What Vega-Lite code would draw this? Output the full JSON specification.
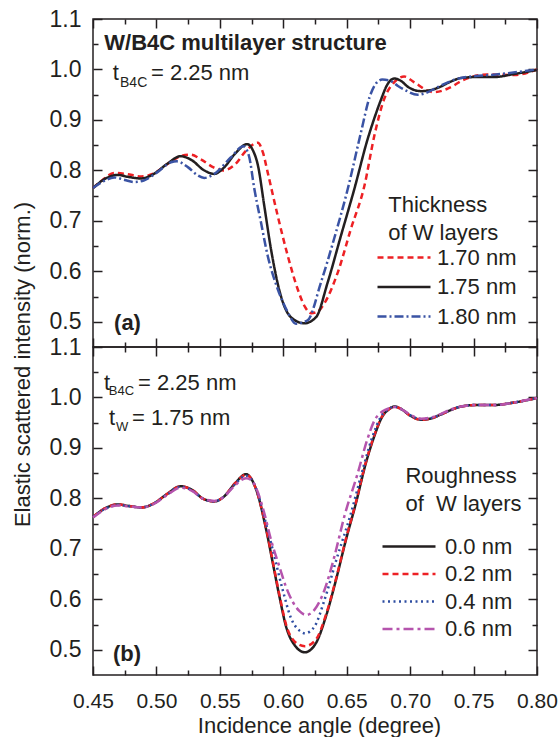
{
  "$schema": "https://vega.github.io/schema/vega-lite/v6.json",
  "padding": {"left": 10, "top": 7, "right": 2, "bottom": 4},
  "spacing": 0,
  "bounds": "flush",
  "config": {
    "font": "Liberation Sans",
    "view": {"stroke": "#231f20", "strokeWidth": 1.5},
    "axis": {
      "domain": false, "grid": false, "labelFlush": false, "labelOverlap": false,
      "labelFont": "Liberation Sans", "labelFontSize": 21, "labelColor": "#231f20",
      "tickColor": "#231f20", "tickWidth": 1.5,
      "titleFont": "Liberation Sans", "titleFontSize": 22, "titleFontWeight": "normal", "titleColor": "#231f20"
    },
    "legend": {
      "labelFont": "Liberation Sans", "titleFont": "Liberation Sans", "labelColor": "#231f20", "titleColor": "#231f20"
    },
    "text": {"font": "Liberation Sans", "color": "#231f20"}
  },
  "resolve": {
    "scale": {"color": "independent", "strokeDash": "independent"},
    "legend": {"color": "independent", "strokeDash": "independent"}
  },
  "datasets": {
    "top": [
      {"t":"1.70 nm","x":0.45,"y":0.765},{"t":"1.70 nm","x":0.458,"y":0.782},{"t":"1.70 nm","x":0.4668,"y":0.795},{"t":"1.70 nm","x":0.476,"y":0.793},{"t":"1.70 nm","x":0.488,"y":0.788},{"t":"1.70 nm","x":0.498,"y":0.794},{"t":"1.70 nm","x":0.51,"y":0.815},{"t":"1.70 nm","x":0.52,"y":0.829},{"t":"1.70 nm","x":0.527,"y":0.831},{"t":"1.70 nm","x":0.535,"y":0.822},{"t":"1.70 nm","x":0.545,"y":0.806},{"t":"1.70 nm","x":0.553,"y":0.8},{"t":"1.70 nm","x":0.562,"y":0.812},{"t":"1.70 nm","x":0.571,"y":0.84},{"t":"1.70 nm","x":0.58,"y":0.855},{"t":"1.70 nm","x":0.584,"y":0.835},{"t":"1.70 nm","x":0.5877,"y":0.796},{"t":"1.70 nm","x":0.5956,"y":0.71},{"t":"1.70 nm","x":0.6035,"y":0.631},{"t":"1.70 nm","x":0.6113,"y":0.565},{"t":"1.70 nm","x":0.617,"y":0.53},{"t":"1.70 nm","x":0.622,"y":0.517},{"t":"1.70 nm","x":0.627,"y":0.52},{"t":"1.70 nm","x":0.632,"y":0.535},{"t":"1.70 nm","x":0.643,"y":0.598},{"t":"1.70 nm","x":0.6533,"y":0.684},{"t":"1.70 nm","x":0.664,"y":0.77},{"t":"1.70 nm","x":0.6718,"y":0.869},{"t":"1.70 nm","x":0.6796,"y":0.942},{"t":"1.70 nm","x":0.6875,"y":0.975},{"t":"1.70 nm","x":0.6954,"y":0.986},{"t":"1.70 nm","x":0.703,"y":0.975},{"t":"1.70 nm","x":0.7138,"y":0.958},{"t":"1.70 nm","x":0.719,"y":0.955},{"t":"1.70 nm","x":0.7296,"y":0.962},{"t":"1.70 nm","x":0.7427,"y":0.98},{"t":"1.70 nm","x":0.761,"y":0.99},{"t":"1.70 nm","x":0.782,"y":0.989},{"t":"1.70 nm","x":0.8,"y":1.0},
      {"t":"1.75 nm","x":0.45,"y":0.765},{"t":"1.75 nm","x":0.46,"y":0.784},{"t":"1.75 nm","x":0.4695,"y":0.791},{"t":"1.75 nm","x":0.478,"y":0.787},{"t":"1.75 nm","x":0.488,"y":0.784},{"t":"1.75 nm","x":0.498,"y":0.793},{"t":"1.75 nm","x":0.508,"y":0.812},{"t":"1.75 nm","x":0.519,"y":0.828},{"t":"1.75 nm","x":0.528,"y":0.82},{"t":"1.75 nm","x":0.537,"y":0.801},{"t":"1.75 nm","x":0.5456,"y":0.793},{"t":"1.75 nm","x":0.553,"y":0.805},{"t":"1.75 nm","x":0.562,"y":0.833},{"t":"1.75 nm","x":0.5715,"y":0.852},{"t":"1.75 nm","x":0.576,"y":0.84},{"t":"1.75 nm","x":0.58,"y":0.81},{"t":"1.75 nm","x":0.585,"y":0.73},{"t":"1.75 nm","x":0.5903,"y":0.644},{"t":"1.75 nm","x":0.598,"y":0.552},{"t":"1.75 nm","x":0.606,"y":0.509},{"t":"1.75 nm","x":0.6166,"y":0.497},{"t":"1.75 nm","x":0.6258,"y":0.509},{"t":"1.75 nm","x":0.635,"y":0.578},{"t":"1.75 nm","x":0.6455,"y":0.671},{"t":"1.75 nm","x":0.656,"y":0.763},{"t":"1.75 nm","x":0.6665,"y":0.862},{"t":"1.75 nm","x":0.672,"y":0.905},{"t":"1.75 nm","x":0.677,"y":0.94},{"t":"1.75 nm","x":0.682,"y":0.97},{"t":"1.75 nm","x":0.6875,"y":0.982},{"t":"1.75 nm","x":0.693,"y":0.977},{"t":"1.75 nm","x":0.698,"y":0.966},{"t":"1.75 nm","x":0.7086,"y":0.957},{"t":"1.75 nm","x":0.716,"y":0.959},{"t":"1.75 nm","x":0.724,"y":0.966},{"t":"1.75 nm","x":0.732,"y":0.976},{"t":"1.75 nm","x":0.74,"y":0.983},{"t":"1.75 nm","x":0.752,"y":0.985},{"t":"1.75 nm","x":0.766,"y":0.985},{"t":"1.75 nm","x":0.782,"y":0.991},{"t":"1.75 nm","x":0.8,"y":0.999},
      {"t":"1.80 nm","x":0.45,"y":0.765},{"t":"1.80 nm","x":0.458,"y":0.778},{"t":"1.80 nm","x":0.4668,"y":0.786},{"t":"1.80 nm","x":0.475,"y":0.781},{"t":"1.80 nm","x":0.4826,"y":0.777},{"t":"1.80 nm","x":0.49,"y":0.78},{"t":"1.80 nm","x":0.5,"y":0.795},{"t":"1.80 nm","x":0.5115,"y":0.816},{"t":"1.80 nm","x":0.516,"y":0.818},{"t":"1.80 nm","x":0.525,"y":0.806},{"t":"1.80 nm","x":0.532,"y":0.791},{"t":"1.80 nm","x":0.5377,"y":0.785},{"t":"1.80 nm","x":0.545,"y":0.792},{"t":"1.80 nm","x":0.5588,"y":0.826},{"t":"1.80 nm","x":0.5685,"y":0.848},{"t":"1.80 nm","x":0.573,"y":0.828},{"t":"1.80 nm","x":0.5772,"y":0.763},{"t":"1.80 nm","x":0.5824,"y":0.697},{"t":"1.80 nm","x":0.5877,"y":0.631},{"t":"1.80 nm","x":0.5956,"y":0.565},{"t":"1.80 nm","x":0.6035,"y":0.519},{"t":"1.80 nm","x":0.61,"y":0.496},{"t":"1.80 nm","x":0.6192,"y":0.503},{"t":"1.80 nm","x":0.6297,"y":0.578},{"t":"1.80 nm","x":0.64,"y":0.664},{"t":"1.80 nm","x":0.6508,"y":0.763},{"t":"1.80 nm","x":0.6613,"y":0.876},{"t":"1.80 nm","x":0.668,"y":0.945},{"t":"1.80 nm","x":0.6744,"y":0.976},{"t":"1.80 nm","x":0.678,"y":0.98},{"t":"1.80 nm","x":0.684,"y":0.978},{"t":"1.80 nm","x":0.69,"y":0.968},{"t":"1.80 nm","x":0.6954,"y":0.96},{"t":"1.80 nm","x":0.706,"y":0.95},{"t":"1.80 nm","x":0.714,"y":0.955},{"t":"1.80 nm","x":0.7217,"y":0.965},{"t":"1.80 nm","x":0.74,"y":0.983},{"t":"1.80 nm","x":0.7716,"y":0.991},{"t":"1.80 nm","x":0.8,"y":1.0}
    ],
    "bot": [
      {"r":"0.0 nm","x":0.45,"y":0.763},{"r":"0.0 nm","x":0.46,"y":0.781},{"r":"0.0 nm","x":0.4695,"y":0.788},{"r":"0.0 nm","x":0.478,"y":0.785},{"r":"0.0 nm","x":0.488,"y":0.782},{"r":"0.0 nm","x":0.498,"y":0.79},{"r":"0.0 nm","x":0.508,"y":0.808},{"r":"0.0 nm","x":0.519,"y":0.824},{"r":"0.0 nm","x":0.528,"y":0.817},{"r":"0.0 nm","x":0.537,"y":0.799},{"r":"0.0 nm","x":0.5456,"y":0.794},{"r":"0.0 nm","x":0.553,"y":0.803},{"r":"0.0 nm","x":0.562,"y":0.83},{"r":"0.0 nm","x":0.5706,"y":0.848},{"r":"0.0 nm","x":0.5745,"y":0.84},{"r":"0.0 nm","x":0.5787,"y":0.817},{"r":"0.0 nm","x":0.5866,"y":0.737},{"r":"0.0 nm","x":0.5918,"y":0.671},{"r":"0.0 nm","x":0.597,"y":0.605},{"r":"0.0 nm","x":0.6023,"y":0.545},{"r":"0.0 nm","x":0.609,"y":0.509},{"r":"0.0 nm","x":0.617,"y":0.495},{"r":"0.0 nm","x":0.6257,"y":0.513},{"r":"0.0 nm","x":0.6336,"y":0.566},{"r":"0.0 nm","x":0.6415,"y":0.638},{"r":"0.0 nm","x":0.6494,"y":0.718},{"r":"0.0 nm","x":0.6572,"y":0.79},{"r":"0.0 nm","x":0.6651,"y":0.87},{"r":"0.0 nm","x":0.672,"y":0.925},{"r":"0.0 nm","x":0.678,"y":0.962},{"r":"0.0 nm","x":0.683,"y":0.976},{"r":"0.0 nm","x":0.6875,"y":0.982},{"r":"0.0 nm","x":0.693,"y":0.977},{"r":"0.0 nm","x":0.7,"y":0.964},{"r":"0.0 nm","x":0.7086,"y":0.956},{"r":"0.0 nm","x":0.716,"y":0.958},{"r":"0.0 nm","x":0.724,"y":0.966},{"r":"0.0 nm","x":0.732,"y":0.975},{"r":"0.0 nm","x":0.74,"y":0.982},{"r":"0.0 nm","x":0.752,"y":0.985},{"r":"0.0 nm","x":0.766,"y":0.985},{"r":"0.0 nm","x":0.782,"y":0.99},{"r":"0.0 nm","x":0.8,"y":0.999},
      {"r":"0.2 nm","x":0.45,"y":0.763},{"r":"0.2 nm","x":0.46,"y":0.781},{"r":"0.2 nm","x":0.4695,"y":0.788},{"r":"0.2 nm","x":0.478,"y":0.785},{"r":"0.2 nm","x":0.488,"y":0.782},{"r":"0.2 nm","x":0.498,"y":0.79},{"r":"0.2 nm","x":0.508,"y":0.808},{"r":"0.2 nm","x":0.519,"y":0.824},{"r":"0.2 nm","x":0.528,"y":0.817},{"r":"0.2 nm","x":0.537,"y":0.799},{"r":"0.2 nm","x":0.5456,"y":0.794},{"r":"0.2 nm","x":0.553,"y":0.803},{"r":"0.2 nm","x":0.562,"y":0.83},{"r":"0.2 nm","x":0.5706,"y":0.847},{"r":"0.2 nm","x":0.5745,"y":0.84},{"r":"0.2 nm","x":0.5787,"y":0.817},{"r":"0.2 nm","x":0.5866,"y":0.739},{"r":"0.2 nm","x":0.5918,"y":0.674},{"r":"0.2 nm","x":0.597,"y":0.608},{"r":"0.2 nm","x":0.6023,"y":0.549},{"r":"0.2 nm","x":0.609,"y":0.516},{"r":"0.2 nm","x":0.617,"y":0.507},{"r":"0.2 nm","x":0.6257,"y":0.52},{"r":"0.2 nm","x":0.6336,"y":0.569},{"r":"0.2 nm","x":0.6415,"y":0.64},{"r":"0.2 nm","x":0.6494,"y":0.72},{"r":"0.2 nm","x":0.6572,"y":0.792},{"r":"0.2 nm","x":0.6651,"y":0.872},{"r":"0.2 nm","x":0.672,"y":0.927},{"r":"0.2 nm","x":0.678,"y":0.963},{"r":"0.2 nm","x":0.683,"y":0.976},{"r":"0.2 nm","x":0.6875,"y":0.982},{"r":"0.2 nm","x":0.693,"y":0.977},{"r":"0.2 nm","x":0.7,"y":0.964},{"r":"0.2 nm","x":0.7086,"y":0.956},{"r":"0.2 nm","x":0.716,"y":0.958},{"r":"0.2 nm","x":0.724,"y":0.966},{"r":"0.2 nm","x":0.732,"y":0.975},{"r":"0.2 nm","x":0.74,"y":0.982},{"r":"0.2 nm","x":0.752,"y":0.985},{"r":"0.2 nm","x":0.766,"y":0.985},{"r":"0.2 nm","x":0.782,"y":0.99},{"r":"0.2 nm","x":0.8,"y":0.999},
      {"r":"0.4 nm","x":0.45,"y":0.763},{"r":"0.4 nm","x":0.46,"y":0.78},{"r":"0.4 nm","x":0.4695,"y":0.787},{"r":"0.4 nm","x":0.478,"y":0.785},{"r":"0.4 nm","x":0.488,"y":0.782},{"r":"0.4 nm","x":0.498,"y":0.79},{"r":"0.4 nm","x":0.508,"y":0.807},{"r":"0.4 nm","x":0.519,"y":0.823},{"r":"0.4 nm","x":0.528,"y":0.816},{"r":"0.4 nm","x":0.537,"y":0.799},{"r":"0.4 nm","x":0.5456,"y":0.794},{"r":"0.4 nm","x":0.553,"y":0.803},{"r":"0.4 nm","x":0.562,"y":0.828},{"r":"0.4 nm","x":0.5706,"y":0.845},{"r":"0.4 nm","x":0.5745,"y":0.839},{"r":"0.4 nm","x":0.5787,"y":0.818},{"r":"0.4 nm","x":0.5866,"y":0.748},{"r":"0.4 nm","x":0.5917,"y":0.698},{"r":"0.4 nm","x":0.5996,"y":0.618},{"r":"0.4 nm","x":0.6062,"y":0.562},{"r":"0.4 nm","x":0.6128,"y":0.538},{"r":"0.4 nm","x":0.617,"y":0.5325},{"r":"0.4 nm","x":0.6246,"y":0.546},{"r":"0.4 nm","x":0.6325,"y":0.599},{"r":"0.4 nm","x":0.6418,"y":0.678},{"r":"0.4 nm","x":0.6534,"y":0.771},{"r":"0.4 nm","x":0.6626,"y":0.857},{"r":"0.4 nm","x":0.67,"y":0.92},{"r":"0.4 nm","x":0.677,"y":0.962},{"r":"0.4 nm","x":0.683,"y":0.977},{"r":"0.4 nm","x":0.6875,"y":0.982},{"r":"0.4 nm","x":0.693,"y":0.977},{"r":"0.4 nm","x":0.7,"y":0.965},{"r":"0.4 nm","x":0.7086,"y":0.957},{"r":"0.4 nm","x":0.716,"y":0.959},{"r":"0.4 nm","x":0.724,"y":0.966},{"r":"0.4 nm","x":0.732,"y":0.975},{"r":"0.4 nm","x":0.74,"y":0.982},{"r":"0.4 nm","x":0.752,"y":0.985},{"r":"0.4 nm","x":0.766,"y":0.985},{"r":"0.4 nm","x":0.782,"y":0.99},{"r":"0.4 nm","x":0.8,"y":0.999},
      {"r":"0.6 nm","x":0.45,"y":0.762},{"r":"0.6 nm","x":0.46,"y":0.779},{"r":"0.6 nm","x":0.4695,"y":0.786},{"r":"0.6 nm","x":0.478,"y":0.784},{"r":"0.6 nm","x":0.488,"y":0.782},{"r":"0.6 nm","x":0.498,"y":0.789},{"r":"0.6 nm","x":0.508,"y":0.806},{"r":"0.6 nm","x":0.519,"y":0.821},{"r":"0.6 nm","x":0.528,"y":0.815},{"r":"0.6 nm","x":0.537,"y":0.799},{"r":"0.6 nm","x":0.5456,"y":0.795},{"r":"0.6 nm","x":0.553,"y":0.803},{"r":"0.6 nm","x":0.562,"y":0.826},{"r":"0.6 nm","x":0.5706,"y":0.84},{"r":"0.6 nm","x":0.575,"y":0.836},{"r":"0.6 nm","x":0.579,"y":0.818},{"r":"0.6 nm","x":0.585,"y":0.771},{"r":"0.6 nm","x":0.5903,"y":0.718},{"r":"0.6 nm","x":0.5969,"y":0.665},{"r":"0.6 nm","x":0.6021,"y":0.625},{"r":"0.6 nm","x":0.6074,"y":0.595},{"r":"0.6 nm","x":0.6126,"y":0.577},{"r":"0.6 nm","x":0.6179,"y":0.569},{"r":"0.6 nm","x":0.6245,"y":0.579},{"r":"0.6 nm","x":0.6324,"y":0.618},{"r":"0.6 nm","x":0.6403,"y":0.685},{"r":"0.6 nm","x":0.6481,"y":0.764},{"r":"0.6 nm","x":0.6587,"y":0.85},{"r":"0.6 nm","x":0.666,"y":0.915},{"r":"0.6 nm","x":0.672,"y":0.955},{"r":"0.6 nm","x":0.678,"y":0.972},{"r":"0.6 nm","x":0.684,"y":0.979},{"r":"0.6 nm","x":0.6875,"y":0.981},{"r":"0.6 nm","x":0.693,"y":0.977},{"r":"0.6 nm","x":0.7,"y":0.966},{"r":"0.6 nm","x":0.7086,"y":0.958},{"r":"0.6 nm","x":0.716,"y":0.96},{"r":"0.6 nm","x":0.724,"y":0.967},{"r":"0.6 nm","x":0.732,"y":0.976},{"r":"0.6 nm","x":0.74,"y":0.982},{"r":"0.6 nm","x":0.752,"y":0.985},{"r":"0.6 nm","x":0.766,"y":0.985},{"r":"0.6 nm","x":0.782,"y":0.99},{"r":"0.6 nm","x":0.8,"y":0.999}
    ],
    "topBold": [{"x":0.4589,"y":1.0379,"label":"W/B4C multilayer structure"},{"x":0.4666,"y":0.483,"label":"(a)"}],
    "topText": [{"x":0.4655,"y":0.98,"label":"t"},{"x":0.4957,"y":0.98,"label":"= 2.25 nm"}],
    "topSub": [{"x":0.4713,"y":0.965,"label":"B4C"}],
    "botBold": [{"x":0.4658,"y":0.477,"label":"(b)"}],
    "botText": [{"x":0.4587,"y":1.0153,"label":"t"},{"x":0.4855,"y":1.0153,"label":"= 2.25 nm"},{"x":0.4626,"y":0.946,"label":"t"},{"x":0.4807,"y":0.946,"label":"= 1.75 nm"}],
    "botSub": [{"x":0.4624,"y":1.0048,"label":"B4C"},{"x":0.4681,"y":0.933,"label":"W"}]
  },
  "vconcat": [
    {
      "width": 444, "height": 328,
      "resolve": {"axis": {"x": "independent", "y": "independent"}},
      "layer": [
        {
          "data": {"name": "top"},
          "mark": {"type": "line", "interpolate": "monotone", "strokeWidth": 2.5},
          "encoding": {
            "x": {"field": "x", "type": "quantitative", "scale": {"domain": [0.45, 0.8], "nice": false, "zero": false},
              "axis": {"orient": "bottom", "values": [0.45,0.475,0.5,0.525,0.55,0.575,0.6,0.625,0.65,0.675,0.7,0.725,0.75,0.775,0.8], "labels": false, "title": null,
                "tickSize": {"condition": {"test": "abs(datum.value*20 - round(datum.value*20)) < 0.01", "value": -9}, "value": -5}}},
            "y": {"field": "y", "type": "quantitative", "scale": {"domain": [0.45, 1.1], "nice": false, "zero": false},
              "axis": {"orient": "left", "values": [0.5,0.55,0.6,0.65,0.7,0.75,0.8,0.85,0.9,0.95,1.0,1.05,1.1], "title": null, "labelFontSize": 23, "labelPadding": 21,
                "labelExpr": "abs(datum.value*10 - round(datum.value*10)) < 0.01 ? format(datum.value, '.1f') : ''",
                "tickSize": {"condition": {"test": "abs(datum.value*10 - round(datum.value*10)) < 0.01", "value": -9}, "value": -5}}},
            "color": {"field": "t", "type": "nominal", "scale": {"domain": ["1.70 nm", "1.75 nm", "1.80 nm"], "range": ["#ed2024", "#231f20", "#3a53a4"]},
              "legend": {"orient": "none", "legendX": 283, "legendY": 176, "padding": 0, "title": ["\u200b\u00a0\u00a0Thickness", "\u200b\u00a0\u00a0of W layers"], "titleFontSize": 22, "titleFontWeight": "normal", "titleLineHeight": 28, "titlePadding": 2, "labelFontSize": 22, "symbolType": "stroke", "symbolSize": 2809, "symbolStrokeWidth": 2.5, "labelOffset": 5, "rowPadding": 6.5, "clipHeight": 21}},
            "strokeDash": {"field": "t", "type": "nominal", "scale": {"domain": ["1.70 nm", "1.75 nm", "1.80 nm"], "range": [[6, 4], [1, 0], [9, 3, 2, 3]]},
              "legend": {"orient": "none", "legendX": 283, "legendY": 176, "padding": 0, "title": ["\u200b\u00a0\u00a0Thickness", "\u200b\u00a0\u00a0of W layers"], "titleFontSize": 22, "titleFontWeight": "normal", "titleLineHeight": 28, "titlePadding": 2, "labelFontSize": 22, "symbolType": "stroke", "symbolSize": 2809, "symbolStrokeWidth": 2.5, "labelOffset": 5, "rowPadding": 6.5, "clipHeight": 21}}
          }
        },
        {
          "data": {"name": "topBold"},
          "mark": {"type": "text", "align": "left", "baseline": "alphabetic", "fontSize": 22, "fontWeight": "bold"},
          "encoding": {
            "x": {"field": "x", "type": "quantitative", "scale": {"domain": [0.45, 0.8], "nice": false, "zero": false},
              "axis": {"orient": "top", "values": [0.45,0.475,0.5,0.525,0.55,0.575,0.6,0.625,0.65,0.675,0.7,0.725,0.75,0.775,0.8], "labels": false, "title": null,
                "tickSize": {"condition": {"test": "abs(datum.value*20 - round(datum.value*20)) < 0.01", "value": -9}, "value": -5}}},
            "y": {"field": "y", "type": "quantitative", "scale": {"domain": [0.45, 1.1], "nice": false, "zero": false},
              "axis": {"orient": "right", "values": [0.5,0.55,0.6,0.65,0.7,0.75,0.8,0.85,0.9,0.95,1.0,1.05,1.1], "labels": false, "title": null,
                "tickSize": {"condition": {"test": "abs(datum.value*10 - round(datum.value*10)) < 0.01", "value": -9}, "value": -5}}},
            "text": {"field": "label"}
          }
        },
        {
          "data": {"name": "topText"},
          "mark": {"type": "text", "align": "left", "baseline": "alphabetic", "fontSize": 22},
          "encoding": {
            "x": {"field": "x", "type": "quantitative", "axis": null},
            "y": {"field": "y", "type": "quantitative", "axis": null},
            "text": {"field": "label"}
          }
        },
        {
          "data": {"name": "topSub"},
          "mark": {"type": "text", "align": "left", "baseline": "alphabetic", "fontSize": 14},
          "encoding": {
            "x": {"field": "x", "type": "quantitative", "axis": null},
            "y": {"field": "y", "type": "quantitative", "axis": null},
            "text": {"field": "label"}
          }
        }
      ]
    },
    {
      "width": 444, "height": 328,
      "resolve": {"axis": {"x": "independent", "y": "independent"}},
      "layer": [
        {
          "data": {"name": "bot"},
          "mark": {"type": "line", "interpolate": "monotone", "strokeWidth": 2.5},
          "encoding": {
            "x": {"field": "x", "type": "quantitative", "scale": {"domain": [0.45, 0.8], "nice": false, "zero": false},
              "axis": {"orient": "bottom", "values": [0.45,0.475,0.5,0.525,0.55,0.575,0.6,0.625,0.65,0.675,0.7,0.725,0.75,0.775,0.8], "labelPadding": 24,
                "labelExpr": "abs(datum.value*20 - round(datum.value*20)) < 0.01 ? format(datum.value, '.2f') : ''",
                "title": "Incidence angle (degree)", "titleX": 226, "titleY": 50, "titleBaseline": "middle",
                "tickSize": {"condition": {"test": "abs(datum.value*20 - round(datum.value*20)) < 0.01", "value": -9}, "value": -5}}},
            "y": {"field": "y", "type": "quantitative", "scale": {"domain": [0.45, 1.1], "nice": false, "zero": false},
              "axis": {"orient": "left", "values": [0.5,0.55,0.6,0.65,0.7,0.75,0.8,0.85,0.9,0.95,1.0,1.05,1.1], "labelFontSize": 23, "labelPadding": 21,
                "labelExpr": "abs(datum.value*10 - round(datum.value*10)) < 0.01 ? format(datum.value, '.1f') : ''",
                "title": "Elastic scattered intensity (norm.)", "titleX": -71, "titleY": 17, "titleBaseline": "middle",
                "tickSize": {"condition": {"test": "abs(datum.value*10 - round(datum.value*10)) < 0.01", "value": -9}, "value": -5}}},
            "color": {"field": "r", "type": "nominal", "scale": {"domain": ["0.0 nm", "0.2 nm", "0.4 nm", "0.6 nm"], "range": ["#231f20", "#ed2024", "#2e4da1", "#b554ad"]},
              "legend": {"orient": "none", "legendX": 288, "legendY": 119, "padding": 0, "title": ["\u200b\u00a0\u00a0\u00a0\u00a0Roughness", "\u200b\u00a0\u00a0\u00a0\u00a0of\u00a0\u00a0W layers"], "titleFontSize": 22, "titleFontWeight": "normal", "titleLineHeight": 28, "titlePadding": 20, "labelFontSize": 22, "symbolType": "stroke", "symbolSize": 2809, "symbolStrokeWidth": 2.5, "labelOffset": 8, "rowPadding": 4.5, "clipHeight": 21}},
            "strokeDash": {"field": "r", "type": "nominal", "scale": {"domain": ["0.0 nm", "0.2 nm", "0.4 nm", "0.6 nm"], "range": [[1, 0], [6, 4], [2, 3.5], [10, 4, 3, 4]]},
              "legend": {"orient": "none", "legendX": 288, "legendY": 119, "padding": 0, "title": ["\u200b\u00a0\u00a0\u00a0\u00a0Roughness", "\u200b\u00a0\u00a0\u00a0\u00a0of\u00a0\u00a0W layers"], "titleFontSize": 22, "titleFontWeight": "normal", "titleLineHeight": 28, "titlePadding": 20, "labelFontSize": 22, "symbolType": "stroke", "symbolSize": 2809, "symbolStrokeWidth": 2.5, "labelOffset": 8, "rowPadding": 4.5, "clipHeight": 21}}
          }
        },
        {
          "data": {"name": "botBold"},
          "mark": {"type": "text", "align": "left", "baseline": "alphabetic", "fontSize": 22, "fontWeight": "bold"},
          "encoding": {
            "x": {"field": "x", "type": "quantitative", "scale": {"domain": [0.45, 0.8], "nice": false, "zero": false},
              "axis": {"orient": "top", "values": [0.45,0.475,0.5,0.525,0.55,0.575,0.6,0.625,0.65,0.675,0.7,0.725,0.75,0.775,0.8], "labels": false, "title": null,
                "tickSize": {"condition": {"test": "abs(datum.value*20 - round(datum.value*20)) < 0.01", "value": -9}, "value": -5}}},
            "y": {"field": "y", "type": "quantitative", "scale": {"domain": [0.45, 1.1], "nice": false, "zero": false},
              "axis": {"orient": "right", "values": [0.5,0.55,0.6,0.65,0.7,0.75,0.8,0.85,0.9,0.95,1.0,1.05,1.1], "labels": false, "title": null,
                "tickSize": {"condition": {"test": "abs(datum.value*10 - round(datum.value*10)) < 0.01", "value": -9}, "value": -5}}},
            "text": {"field": "label"}
          }
        },
        {
          "data": {"name": "botText"},
          "mark": {"type": "text", "align": "left", "baseline": "alphabetic", "fontSize": 22},
          "encoding": {
            "x": {"field": "x", "type": "quantitative", "axis": null},
            "y": {"field": "y", "type": "quantitative", "axis": null},
            "text": {"field": "label"}
          }
        },
        {
          "data": {"name": "botSub"},
          "mark": {"type": "text", "align": "left", "baseline": "alphabetic", "fontSize": 13},
          "encoding": {
            "x": {"field": "x", "type": "quantitative", "axis": null},
            "y": {"field": "y", "type": "quantitative", "axis": null},
            "text": {"field": "label"}
          }
        }
      ]
    }
  ]
}
